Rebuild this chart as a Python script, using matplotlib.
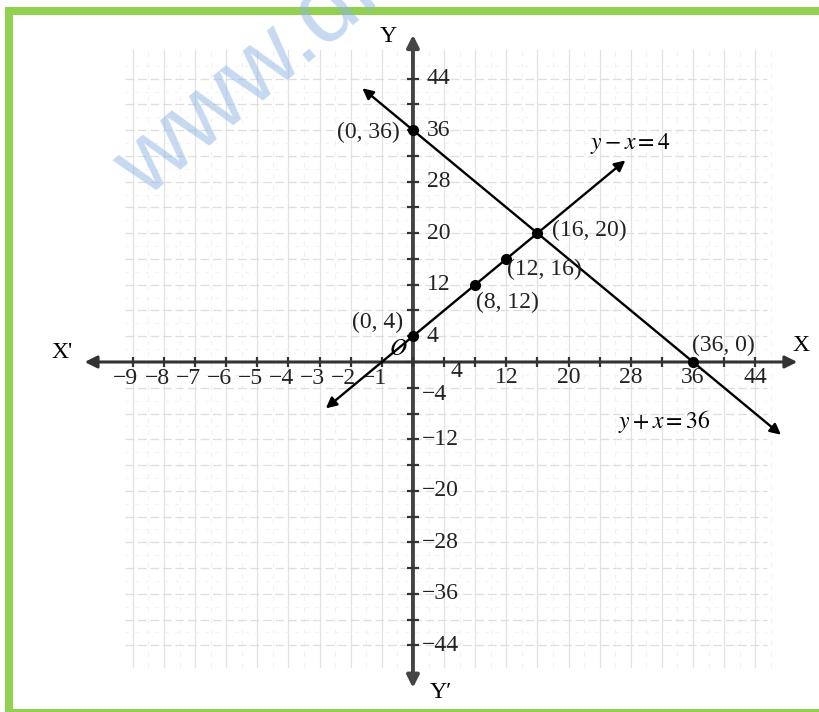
import matplotlib.pyplot as plt
from matplotlib.patches import Rectangle

plt.rcParams['font.family'] = ['Liberation Serif', 'DejaVu Serif']
plt.rcParams['mathtext.fontset'] = 'stix'

# Points marked on the two lines
points_x = [0, 0, 8, 12, 16, 36]
points_y = [36, 4, 12, 16, 20, 0]
point_labels = ["(0, 36)", "(0, 4)", "(8, 12)", "(12, 16)", "(16, 20)", "(36, 0)"]

# Arrow tips of the two lines
line1_x = [-11.2, 27.3]   # y - x = 4
line1_y = [-7.2, 31.3]
line2_x = [-6.5, 47.3]    # y + x = 36
line2_y = [42.5, -11.3]

# Axis tick labels (the book labels the negative x side -1 ... -9)
x_ticks_pos = [4, 12, 20, 28, 36, 44]
x_labels_pos = ["4", "12", "20", "28", "36", "44"]
x_ticks_neg = [-4, -8, -12, -16, -20, -24, -28, -32, -36]
x_labels_neg = ["−1", "−2", "−3", "−4", "−5", "−6", "−7", "−8", "−9"]
y_ticks = [44, 36, 28, 20, 12, 4, -4, -12, -20, -28, -36, -44]
y_labels = ["44", "36", "28", "20", "12", "4", "−4", "−12", "−20", "−28", "−36", "−44"]

tick_marks = list(range(-44, 48, 4))

fig = plt.figure(figsize=(8.19, 7.12), dpi=100)
ax = fig.add_axes([0, 0, 1, 1])
ax.set_xlim(-53.08, 52.19)
ax.set_ylim(-54.35, 56.21)
ax.axis('off')

# background graph paper (faint)
for gx in range(-36, 48, 4):
    ax.plot([gx, gx], [-47.4, 48.4], color='#e2e2e2', lw=0.9, zorder=0)
    ax.plot([gx + 2, gx + 2], [-47.4, 48.4], color='#f1f1f1', lw=0.8, ls=(0, (4, 6)), zorder=0)
for gy in range(-44, 48, 4):
    ax.plot([-37, 45.5], [gy, gy], color='#dedede', lw=0.9, ls=(0, (7, 3)), zorder=0)
    ax.plot([-37, 45.5], [gy + 2, gy + 2], color='#f2f2f2', lw=0.8, ls=(0, (3, 6)), zorder=0)

# axes with arrows
ax.annotate('', xy=(49.4, 0), xytext=(-42.2, 0),
            arrowprops=dict(arrowstyle='<|-|>', color='#333333', lw=2.2,
                            mutation_scale=18, shrinkA=0, shrinkB=0), zorder=2)
ax.annotate('', xy=(0, 50.8), xytext=(0, -50.6),
            arrowprops=dict(arrowstyle='<|-|>', color='#444444', lw=2.8,
                            mutation_scale=18, shrinkA=0, shrinkB=0), zorder=2)
x_marks = [t for t in tick_marks if t >= -36]
ax.plot(x_marks, [0] * len(x_marks), ls='none', marker='|', ms=7, mew=1.6,
        color='#333333', zorder=3)
ax.plot([0] * len(tick_marks), tick_marks, ls='none', marker='_', ms=8, mew=1.6,
        color='#333333', zorder=3)

# the two lines
ax.annotate('', xy=(line1_x[1], line1_y[1]), xytext=(line1_x[0], line1_y[0]),
            arrowprops=dict(arrowstyle='<|-|>', color='black', lw=1.7,
                            mutation_scale=16, shrinkA=0, shrinkB=0), zorder=4)
ax.annotate('', xy=(line2_x[1], line2_y[1]), xytext=(line2_x[0], line2_y[0]),
            arrowprops=dict(arrowstyle='<|-|>', color='black', lw=1.7,
                            mutation_scale=16, shrinkA=0, shrinkB=0), zorder=4)
ax.plot(points_x, points_y, 'o', color='black', ms=7, zorder=5)

# point labels
label_dx = [-13, -10, 1, 1, 15, -1]
label_dy = [-2, 14, -18, -11, 3, 17]
label_ha = ['right', 'right', 'left', 'left', 'left', 'left']
for px, py, lab, dx, dy, ha in zip(points_x, points_y, point_labels, label_dx, label_dy, label_ha):
    ax.annotate(lab, (px, py), xytext=(dx, dy), textcoords='offset pixels',
                ha=ha, va='center', fontsize=17, color='#222222', zorder=6)

# tick labels
for t, lab in zip(x_ticks_pos, x_labels_pos):
    off = (12, -10) if t == 4 else (0, -16)
    ax.annotate(lab, (t, 0), xytext=off, textcoords='offset pixels',
                ha='center', va='center', fontsize=17, color='#222222')
for t, lab in zip(x_ticks_neg, x_labels_neg):
    ax.annotate(lab, (t, 0), xytext=(-7, -17), textcoords='offset pixels',
                ha='center', va='center', fontsize=17, color='#222222')
for t, lab in zip(y_ticks, y_labels):
    dx = 14 if t > 0 else 9
    dy = -7 if t == -4 else 0
    ax.annotate(lab, (0, t), xytext=(dx, dy), textcoords='offset pixels',
                ha='left', va='center', fontsize=17, color='#222222')

# axis names and equations
ax.text(-45.1, 1.55, "X'", fontsize=17, ha='center', va='center')
ax.text(49.9, 2.6, "X", fontsize=17, ha='center', va='center')
ax.text(-3.2, 50.5, "Y", fontsize=17, ha='center', va='center')
ax.text(3.6, -51.3, "Y′", fontsize=17, ha='center', va='center')
ax.text(-1.9, 1.9, "$O$", fontsize=17, ha='center', va='center')
ax.text(22.75, 34.0, "$y - x = 4$", fontsize=17, ha='left', va='center')
ax.text(26.35, -9.3, "$y + x = 36$", fontsize=17, ha='left', va='center')

# watermark, running off the top edge as in the source image
fig.text(145 / 819, 1 - 200 / 712, "www.dronstudy.com", rotation=40, rotation_mode='anchor',
         fontsize=70, family='Liberation Sans', color='#8fb4e3', alpha=0.5,
         ha='left', va='baseline', zorder=10)

# green frame
fig.add_artist(Rectangle((9 / 819, -1 / 712), 814 / 819, 702 / 712, transform=fig.transFigure,
                         fill=False, ec='#92d050', lw=5.8))

plt.savefig("out.png", dpi=100)
